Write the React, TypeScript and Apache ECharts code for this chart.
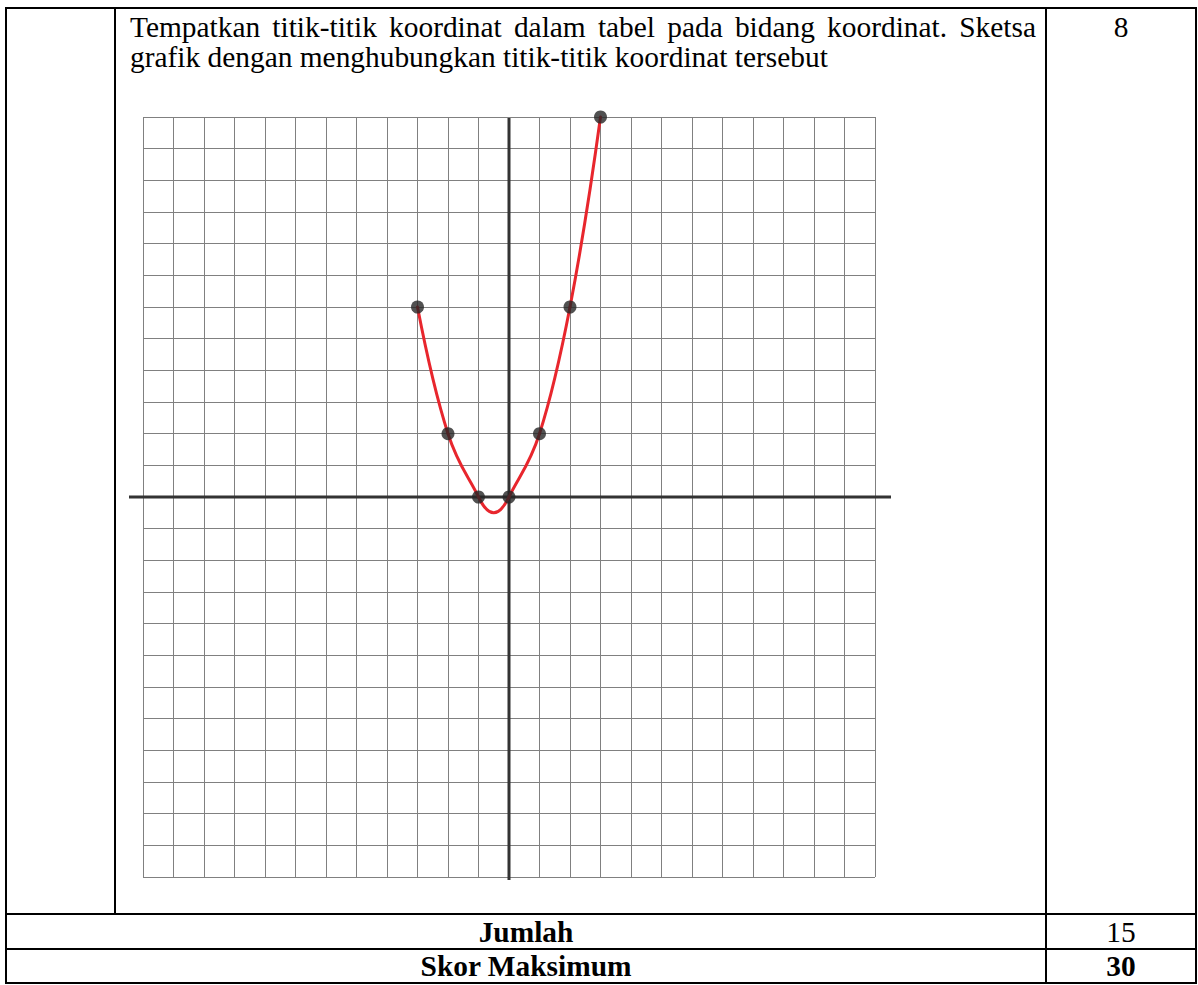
import React, { useEffect, useRef } from "react";
import * as echarts from "echarts";

const xValues = [-3, -2, -1, 0, 1, 2, 3];
const yValues = [6, 2, 0, 0, 2, 6, 12];
const axisMin = -12;
const axisMax = 12;

const line1 = "Tempatkan titik-titik koordinat dalam tabel pada bidang koordinat. Sketsa";
const line2 = "grafik dengan menghubungkan titik-titik koordinat tersebut";
const scoreItem = "8";
const totalLabel = "Jumlah";
const totalValue = "15";
const maxLabel = "Skor Maksimum";
const maxValue = "30";

const FAMILY = "Liberation Serif";
const FS = 29.4;

function measure(text: string, weight = "normal"): number {
  const c = document.createElement("canvas");
  const ctx = c.getContext("2d")!;
  ctx.font = `${weight} ${FS}px "${FAMILY}"`;
  return ctx.measureText(text).width;
}

export default function App() {
  const ref = useRef<HTMLDivElement>(null);
  useEffect(() => {
    if (!ref.current) return;
    const chart = echarts.init(ref.current, undefined, { renderer: "svg" });

    const txt = (text: string, x: number, y: number, align = "left", bold = false) => ({
      type: "text",
      x,
      y,
      silent: true,
      style: {
        text,
        fontFamily: FAMILY,
        fontSize: FS,
        fontWeight: bold ? "bold" : "normal",
        fill: "#000",
        align,
        verticalAlign: "middle",
      },
    });

    // justified first line
    const words = line1.split(" ");
    const widths = words.map((w) => measure(w));
    const left = 130;
    const right = 1036;
    const total = widths.reduce((a, b) => a + b, 0);
    const gap = (right - left - total) / (words.length - 1);
    const wordEls: any[] = [];
    let cx = left;
    words.forEach((w, i) => {
      wordEls.push(txt(w, cx, 27));
      cx += widths[i] + gap;
    });

    const border = (x1: number, y1: number, x2: number, y2: number) => ({
      type: "line",
      shape: { x1, y1, x2, y2 },
      style: { stroke: "#000", lineWidth: 2 },
      silent: true,
    });

    const data = xValues.map((x, i) => [x, yValues[i]]);

    // tangents for a hand-sketch style Hermite curve through the points
    const n = xValues.length;
    const slopes: number[] = [];
    for (let i = 0; i < n - 1; i++) {
      slopes.push((yValues[i + 1] - yValues[i]) / (xValues[i + 1] - xValues[i]));
    }
    const tangents: number[] = new Array(n).fill(0);
    for (let i = 1; i < n - 1; i++) {
      const adj = [slopes[i - 1], slopes[i]].filter((s) => s !== 0);
      tangents[i] = adj.length ? adj.reduce((a, b) => a + b, 0) / adj.length : 0;
    }
    tangents[0] = 2 * slopes[0] - tangents[1];
    tangents[n - 1] = 2 * slopes[n - 2] - tangents[n - 2];

    chart.setOption({
      animation: false,
      backgroundColor: "#fff",
      grid: { left: 143, top: 117, width: 732, height: 760, containLabel: false },
      xAxis: {
        type: "value",
        min: axisMin,
        max: axisMax,
        interval: 1,
        axisLine: { show: false },
        axisTick: { show: false },
        axisLabel: { show: false },
        splitLine: { show: true, lineStyle: { color: "#808080", width: 1 } },
      },
      yAxis: {
        type: "value",
        min: axisMin,
        max: axisMax,
        interval: 1,
        axisLine: { show: false },
        axisTick: { show: false },
        axisLabel: { show: false },
        splitLine: { show: true, lineStyle: { color: "#808080", width: 1 } },
      },
      series: [
        {
          type: "custom",
          data: [0],
          silent: true,
          z: 3,
          renderItem: (params: any, api: any) => {
            const l = api.coord([axisMin, 0]);
            const r = api.coord([axisMax, 0]);
            const t = api.coord([0, axisMax]);
            const b = api.coord([0, axisMin]);
            return {
              type: "group",
              children: [
                {
                  type: "line",
                  shape: { x1: l[0] - 14, y1: l[1], x2: r[0] + 16, y2: r[1] },
                  style: { stroke: "#333", lineWidth: 3 },
                },
                {
                  type: "line",
                  shape: { x1: t[0], y1: t[1] + 1, x2: b[0], y2: b[1] + 3 },
                  style: { stroke: "#333", lineWidth: 3 },
                },
              ],
            };
          },
        },
        {
          type: "custom",
          data: [0],
          z: 4,
          renderItem: (params: any, api: any) => {
            const children: any[] = [];
            for (let i = 0; i < n - 1; i++) {
              const x0 = xValues[i];
              const x1 = xValues[i + 1];
              const y0 = yValues[i];
              const y1 = yValues[i + 1];
              const dx = (x1 - x0) / 3;
              const p1 = api.coord([x0, y0]);
              const c1 = api.coord([x0 + dx, y0 + tangents[i] * dx]);
              const c2 = api.coord([x1 - dx, y1 - tangents[i + 1] * dx]);
              const p2 = api.coord([x1, y1]);
              children.push({
                type: "bezierCurve",
                shape: {
                  x1: p1[0],
                  y1: p1[1],
                  cpx1: c1[0],
                  cpy1: c1[1],
                  cpx2: c2[0],
                  cpy2: c2[1],
                  x2: p2[0],
                  y2: p2[1],
                },
                style: { stroke: "#e8262d", lineWidth: 3, fill: null, lineCap: "round" },
              });
            }
            return { type: "group", children };
          },
        },
        {
          type: "scatter",
          data,
          clip: false,
          symbolSize: 13,
          itemStyle: { color: "#262626" },
          z: 5,
        },
      ],
      graphic: [
        border(5, 8, 1197, 8),
        border(6, 8, 6, 984),
        border(1196, 8, 1196, 984),
        border(115, 8, 115, 914),
        border(1046, 8, 1046, 984),
        border(5, 914, 1197, 914),
        border(5, 949, 1197, 949),
        border(5, 983, 1197, 983),
        ...wordEls,
        txt(line2, 130, 57),
        txt(scoreItem, 1121, 27, "center"),
        txt(totalLabel, 526, 932, "center", true),
        txt(totalValue, 1121, 932, "center"),
        txt(maxLabel, 526, 966, "center", true),
        txt(maxValue, 1121, 966, "center", true),
      ],
    });
    return () => chart.dispose();
  }, []);
  return (
    <div
      ref={ref}
      style={{ position: "absolute", left: 0, top: 0, width: 1198, height: 985 }}
    />
  );
}
